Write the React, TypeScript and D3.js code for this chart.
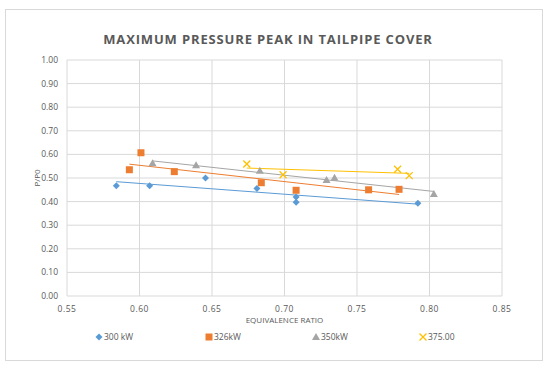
import React from "react";
import * as d3 from "d3";

// equivalence ratio / P/P0
const s300x = [0.584, 0.607, 0.6455, 0.681, 0.708, 0.708, 0.792];
const s300y = [0.467, 0.467, 0.5, 0.456, 0.419, 0.397, 0.393];
const s326x = [0.593, 0.601, 0.624, 0.684, 0.708, 0.758, 0.779];
const s326y = [0.535, 0.607, 0.527, 0.48, 0.448, 0.45, 0.452];
const s350x = [0.609, 0.639, 0.683, 0.729, 0.7345, 0.803];
const s350y = [0.562, 0.554, 0.531, 0.492, 0.501, 0.432];
const s375x = [0.674, 0.699, 0.778, 0.786];
const s375y = [0.559, 0.514, 0.537, 0.51];

const seriesNames = ["300 kW", "326kW", "350kW", "375.00"];
const xTicks = [0.55, 0.6, 0.65, 0.7, 0.75, 0.8, 0.85];
const yTicks = [0, 0.1, 0.2, 0.3, 0.4, 0.5, 0.6, 0.7, 0.8, 0.9, 1.0];

const colors = ["#5B9BD5", "#ED7D31", "#A5A5A5", "#FFC000"];
const shapes = ["diamond", "square", "triangle", "x"];

const W = 550;
const H = 369;
const M = { left: 67, right: 48, top: 60, bottom: 73 };

const x = d3.scaleLinear().domain([0.55, 0.85]).range([M.left, W - M.right]);
const y = d3.scaleLinear().domain([0, 1]).range([H - M.bottom, M.top]);

const series = [
  [s300x, s300y],
  [s326x, s326y],
  [s350x, s350y],
  [s375x, s375y],
];

// least squares trendline, like excel's linear trendline
const trend = (xs, ys) => {
  const mx = d3.mean(xs);
  const my = d3.mean(ys);
  const num = d3.sum(xs.map((v, i) => (v - mx) * (ys[i] - my)));
  const den = d3.sum(xs.map((v) => (v - mx) * (v - mx)));
  const b = num / den;
  const a = my - b * mx;
  const x0 = d3.min(xs);
  const x1 = d3.max(xs);
  return [
    [x0, a + b * x0],
    [x1, a + b * x1],
  ];
};

const Marker = ({ shape, cx, cy, color }) => {
  if (shape === "diamond") {
    return (
      <path
        d={`M${cx},${cy - 3.5}L${cx + 3.5},${cy}L${cx},${cy + 3.5}L${cx - 3.5},${cy}Z`}
        fill={color}
      />
    );
  }
  if (shape === "square") {
    return <rect x={cx - 3.5} y={cy - 3.5} width={7} height={7} fill={color} />;
  }
  if (shape === "triangle") {
    return (
      <path
        d={`M${cx},${cy - 4}L${cx + 4},${cy + 3}L${cx - 4},${cy + 3}Z`}
        fill={color}
      />
    );
  }
  return (
    <path
      d={`M${cx - 3.5},${cy - 3.5}L${cx + 3.5},${cy + 3.5}M${cx + 3.5},${cy - 3.5}L${cx - 3.5},${cy + 3.5}`}
      stroke={color}
      strokeWidth={1.3}
      fill="none"
    />
  );
};

const legendX = [99, 209, 316, 423];

export default function App() {
  const line = d3
    .line()
    .x((d) => x(d[0]))
    .y((d) => y(d[1]));
  const font = "'Open Sans', sans-serif";

  return (
    <svg
      width={W}
      height={H}
      style={{ position: "absolute", left: 0, top: 0, background: "#fff" }}
      fontFamily={font}
    >
      <rect x={5.5} y={9.5} width={537} height={351} fill="#fff" stroke="#d9d9d9" />
      <text
        x={268}
        y={44}
        textAnchor="middle"
        fontSize={13}
        fontWeight="bold"
        fill="#595959"
        letterSpacing={0.85}
      >
        MAXIMUM PRESSURE PEAK IN TAILPIPE COVER
      </text>

      {/* grid */}
      {yTicks.map((t) => (
        <line
          key={"h" + t}
          x1={M.left}
          x2={W - M.right}
          y1={y(t)}
          y2={y(t)}
          stroke="#d9d9d9"
        />
      ))}
      {xTicks.map((t) => (
        <line
          key={"v" + t}
          x1={x(t)}
          x2={x(t)}
          y1={M.top}
          y2={H - M.bottom}
          stroke="#d9d9d9"
        />
      ))}

      {yTicks.map((t) => (
        <text
          key={"yl" + t}
          x={M.left - 9}
          y={y(t) + 3}
          textAnchor="end"
          fontSize={8.5}
          fill="#595959"
        >
          {d3.format(".2f")(t)}
        </text>
      ))}
      {xTicks.map((t) => (
        <text
          key={"xl" + t}
          x={x(t)}
          y={H - M.bottom + 16}
          textAnchor="middle"
          fontSize={8.5}
          fill="#595959"
          letterSpacing={0.5}
        >
          {d3.format(".2f")(t)}
        </text>
      ))}

      <text
        transform={`translate(40 ${(M.top + H - M.bottom) / 2}) rotate(-90)`}
        textAnchor="middle"
        fontSize={8}
        fill="#595959"
      >
        P/P0
      </text>
      <text
        x={(M.left + W - M.right) / 2}
        y={323}
        textAnchor="middle"
        fontSize={8}
        fill="#595959"
      >
        EQUIVALENCE RATIO
      </text>

      {/* trendlines */}
      {series.map(([xs, ys], i) => (
        <path
          key={"t" + i}
          d={line(trend(xs, ys))}
          stroke={colors[i]}
          strokeWidth={1}
          fill="none"
        />
      ))}

      {/* points */}
      {series.map(([xs, ys], i) =>
        xs.map((v, j) => (
          <Marker
            key={i + "-" + j}
            shape={shapes[i]}
            cx={x(v)}
            cy={y(ys[j])}
            color={colors[i]}
          />
        ))
      )}

      {/* legend */}
      {seriesNames.map((n, i) => (
        <g key={"lg" + i}>
          <Marker shape={shapes[i]} cx={legendX[i]} cy={337} color={colors[i]} />
          <text x={legendX[i] + 5} y={340} fontSize={8.5} fill="#595959">
            {n}
          </text>
        </g>
      ))}
    </svg>
  );
}
